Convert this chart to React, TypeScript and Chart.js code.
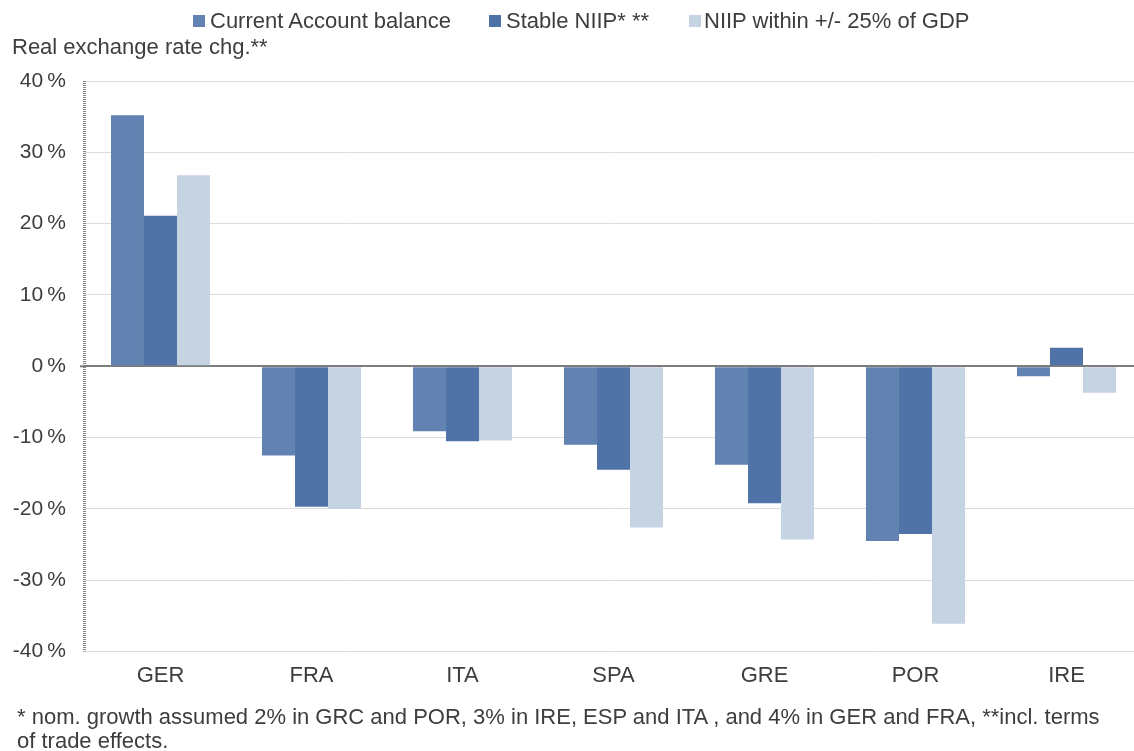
import React, { useEffect, useRef } from "react";
import { Chart, registerables } from "chart.js";

Chart.register(...registerables);

// Categories and series (real exchange rate change, %)
const countries = ["GER", "FRA", "ITA", "SPA", "GRE", "POR", "IRE"];
const currentAccount = [35.2, -12.5, -9.1, -11.0, -13.8, -24.5, -1.4];
const stableNiip = [21.1, -19.7, -10.5, -14.5, -19.2, -23.5, 2.6];
const niipWithin25 = [26.8, -20.0, -10.4, -22.6, -24.3, -36.1, -3.7];

const seriesNames = ["Current Account balance", "Stable NIIP* **", "NIIP within +/- 25% of GDP"];
const seriesColors = ["#6283b1", "#5073a7", "#c6d3e3"];

const yMin = -40;
const yMax = 40;
const yStep = 10;

const axisTitle = "Real exchange rate chg.**";
const footnoteLines = [
  "* nom. growth assumed 2% in GRC and POR, 3% in IRE, ESP and ITA , and 4% in GER and FRA, **incl. terms",
  "of trade effects.",
];

const FONT = "'Liberation Sans', Arial, sans-serif";
const TEXT = "#3d3d3d";

// Stippled vertical axis line on the left edge of the plot, plus a short
// tick where the zero line meets it
const dottedAxis = {
  id: "dottedAxis",
  beforeDatasetsDraw(chart: any) {
    const { ctx, chartArea, scales } = chart;
    const x = Math.round(chartArea.left) - 0.5;
    ctx.save();
    ctx.strokeStyle = "#858585";
    ctx.lineWidth = 3;
    ctx.setLineDash([1, 1]);
    ctx.beginPath();
    ctx.moveTo(x, chartArea.top);
    ctx.lineTo(x, chartArea.bottom);
    ctx.stroke();
    ctx.setLineDash([]);
    const y0 = scales.y.getPixelForValue(0);
    ctx.strokeStyle = "#7c7c7c";
    ctx.lineWidth = 2;
    ctx.beginPath();
    ctx.moveTo(chartArea.left - 5, y0);
    ctx.lineTo(chartArea.left, y0);
    ctx.stroke();
    ctx.restore();
  },
};

export default function App() {
  const canvasRef = useRef<HTMLCanvasElement | null>(null);

  useEffect(() => {
    const canvas = canvasRef.current;
    if (!canvas) return;
    const chart = new Chart(canvas, {
      type: "bar",
      data: {
        labels: countries,
        datasets: [currentAccount, stableNiip, niipWithin25].map((values, i) => ({
          label: seriesNames[i],
          data: values,
          backgroundColor: seriesColors[i],
          borderWidth: 0,
          barPercentage: 1,
          categoryPercentage: 0.656,
        })),
      },
      options: {
        animation: false,
        responsive: true,
        maintainAspectRatio: false,
        layout: { padding: { top: 81, right: 0, bottom: 10, left: 0 } },
        plugins: {
          legend: { display: false },
          tooltip: { enabled: false },
        },
        scales: {
          x: {
            grid: { display: false, drawTicks: false },
            border: { display: false },
            ticks: {
              color: TEXT,
              font: { family: FONT, size: 22 },
              padding: 11,
            },
          },
          y: {
            min: yMin,
            max: yMax,
            afterFit: (scale: any) => {
              scale.width = 85;
            },
            grid: {
              drawTicks: false,
              color: (ctx: any) => (ctx.tick && ctx.tick.value === 0 ? "#7c7c7c" : "#dcdcdc"),
              lineWidth: (ctx: any) => (ctx.tick && ctx.tick.value === 0 ? 2 : 1),
            },
            border: { display: false },
            ticks: {
              stepSize: yStep,
              color: TEXT,
              font: { family: FONT, size: 21 },
              padding: 19,
              callback: (v: any) => `${v}\u2009%`,
            },
          },
        },
      },
      plugins: [dottedAxis],
    });
    return () => chart.destroy();
  }, []);

  const markerLefts = [193, 489, 689];
  const textLefts = [210, 506, 704];

  return (
    <div
      style={{
        position: "fixed",
        left: 0,
        top: 0,
        width: 1134,
        height: 751,
        overflow: "hidden",
        background: "#ffffff",
        fontFamily: FONT,
        color: TEXT,
      }}
    >
      <div style={{ position: "absolute", left: 0, top: 0, width: 1142, height: 710 }}>
        <canvas ref={canvasRef} />
      </div>

      {seriesNames.map((name, i) => (
        <React.Fragment key={name}>
          <div
            style={{
              position: "absolute",
              left: markerLefts[i],
              top: 15,
              width: 12,
              height: 12,
              background: seriesColors[i],
            }}
          />
          <div
            style={{
              position: "absolute",
              left: textLefts[i],
              top: 8,
              fontSize: 22,
              lineHeight: "26px",
              whiteSpace: "nowrap",
            }}
          >
            {name}
          </div>
        </React.Fragment>
      ))}

      <div
        style={{
          position: "absolute",
          left: 12,
          top: 34,
          fontSize: 22,
          lineHeight: "26px",
          whiteSpace: "nowrap",
        }}
      >
        {axisTitle}
      </div>

      {footnoteLines.map((line, i) => (
        <div
          key={i}
          style={{
            position: "absolute",
            left: 17,
            top: 704 + i * 24,
            fontSize: 22,
            lineHeight: "26px",
            whiteSpace: "nowrap",
          }}
        >
          {line}
        </div>
      ))}
    </div>
  );
}
